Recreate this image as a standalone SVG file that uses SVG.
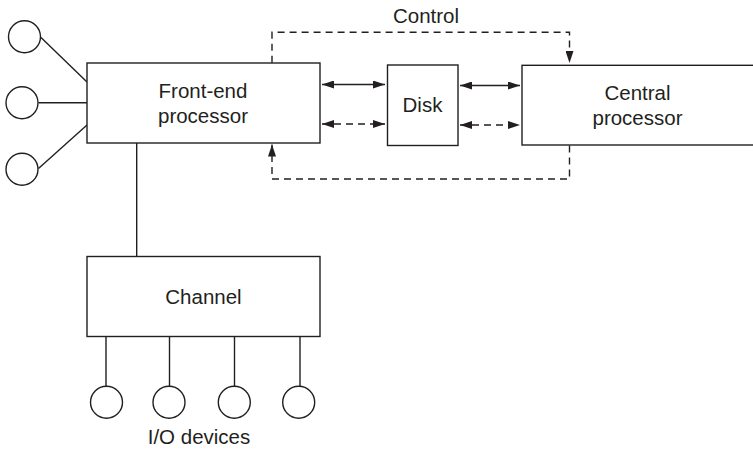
<svg xmlns="http://www.w3.org/2000/svg" width="753" height="450" viewBox="0 0 753 450">
<defs>
<style>
.box{fill:#fff;stroke:#231f20;stroke-width:1.4}
.ln{fill:none;stroke:#231f20;stroke-width:1.4}
.dash{fill:none;stroke:#231f20;stroke-width:1.4;stroke-dasharray:7 5}
.t{font-family:"Liberation Sans",Arial,sans-serif;font-size:20.5px;fill:#231f20;text-anchor:middle}
</style>
<marker id="ah" viewBox="0 0 12 8" refX="12" refY="4" markerWidth="12" markerHeight="8" markerUnits="userSpaceOnUse" orient="auto-start-reverse">
<path d="M0,0 L12,4 L0,8 Z" fill="#231f20"/>
</marker>
</defs>
<g id="connectors">
<line class="ln" x1="41" y1="37.5" x2="87" y2="82"/>
<line class="ln" x1="38.5" y1="102.7" x2="87" y2="102.7"/>
<line class="ln" x1="38.5" y1="168.5" x2="87" y2="125"/>
<line class="ln" x1="136.7" y1="143" x2="136.7" y2="256.5"/>
<line class="ln" x1="106" y1="336.5" x2="106" y2="386"/>
<line class="ln" x1="169.5" y1="336.5" x2="169.5" y2="386"/>
<line class="ln" x1="234.5" y1="336.5" x2="234.5" y2="386"/>
<line class="ln" x1="300" y1="336.5" x2="300" y2="386"/>
<line class="ln" x1="322" y1="84.5" x2="385" y2="84.5" marker-start="url(#ah)" marker-end="url(#ah)"/>
<line class="dash" x1="322" y1="124" x2="385" y2="124" marker-start="url(#ah)" marker-end="url(#ah)"/>
<line class="ln" x1="460" y1="85.5" x2="520" y2="85.5" marker-start="url(#ah)" marker-end="url(#ah)"/>
<line class="dash" x1="460" y1="125" x2="520" y2="125" marker-start="url(#ah)" marker-end="url(#ah)"/>
<polyline class="dash" points="272,62.7 272,32.3 569.5,32.3 569.5,63" marker-end="url(#ah)"/>
<polyline class="dash" points="569.5,145.5 569.5,179 272,179 272,144.5" marker-end="url(#ah)"/>
</g>
<g id="terminal1"><circle class="box" cx="24.5" cy="36.7" r="16"/></g>
<g id="terminal2"><circle class="box" cx="22" cy="102.7" r="16"/></g>
<g id="terminal3"><circle class="box" cx="22" cy="169.3" r="16"/></g>
<g id="front-end">
<rect class="box" x="87" y="63" width="233" height="80"/>
<text class="t" x="203" y="98">Front-end</text>
<text class="t" x="203" y="123">processor</text>
</g>
<g id="disk">
<rect class="box" x="387.5" y="65" width="70.5" height="80.5"/>
<text class="t" x="422.5" y="111.5">Disk</text>
</g>
<g id="central">
<rect class="box" x="522" y="65.3" width="240" height="79.7"/>
<text class="t" x="637.5" y="100">Central</text>
<text class="t" x="637.5" y="125">processor</text>
</g>
<g id="control-label"><text class="t" x="426" y="23">Control</text></g>
<g id="channel">
<rect class="box" x="87" y="256.5" width="233" height="80"/>
<text class="t" x="203.5" y="304">Channel</text>
</g>
<g id="io1"><circle class="box" cx="106.5" cy="402.3" r="16"/></g>
<g id="io2"><circle class="box" cx="169" cy="402.3" r="16"/></g>
<g id="io3"><circle class="box" cx="234.3" cy="402.3" r="16"/></g>
<g id="io4"><circle class="box" cx="298.7" cy="402.3" r="16"/></g>
<g id="io-label"><text class="t" x="199" y="444">I/O devices</text></g>
</svg>
